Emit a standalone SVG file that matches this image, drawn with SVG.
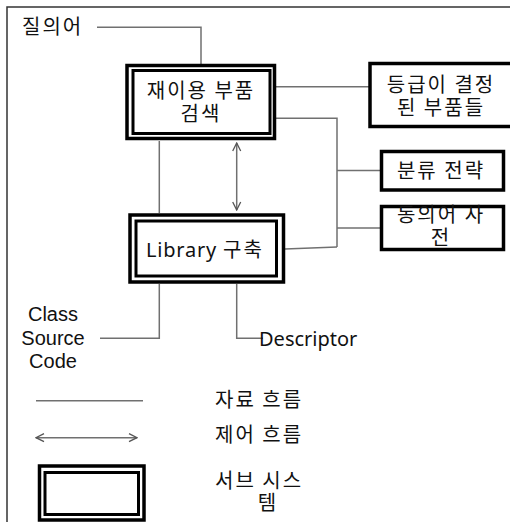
<svg xmlns="http://www.w3.org/2000/svg" width="510" height="525" viewBox="0 0 510 525">
<defs>
<style>
.frame{stroke:#333;stroke-width:1.5;fill:none}
.box{fill:#fff;stroke:#000;stroke-width:3.5}
.ibox{fill:none;stroke:#000;stroke-width:3}
.ln{stroke:#707070;stroke-width:1.5;fill:none}
.ko{font-family:"Noto Sans CJK KR","Noto Sans",sans-serif;font-size:20px;letter-spacing:2px;fill:#111}
.la{font-family:"Noto Sans","Noto Sans CJK KR",sans-serif;font-size:20px;fill:#111}
.lb{font-family:"Liberation Sans",Arial,sans-serif;font-size:20px;fill:#111}
</style>
<marker id="ah" viewBox="0 0 10 10" refX="9" refY="5" markerWidth="10" markerHeight="10" markerUnits="userSpaceOnUse" orient="auto-start-reverse">
<path d="M1,1 L9,5 L1,9" fill="none" stroke="#555" stroke-width="1.3"/>
</marker>
</defs>
<rect width="510" height="525" fill="#fff"/>
<path class="frame" d="M7,522 V7 H510"/>

<g id="connectors">
<path class="ln" d="M97,27.3 H201 V64"/>
<path class="ln" d="M276,86.7 H369"/>
<path class="ln" d="M276,118.3 H337 V247"/>
<path class="ln" d="M337,170.5 H380"/>
<path class="ln" d="M337,228 H380"/>
<path class="ln" d="M285,249 L337,247"/>
<path class="ln" d="M159.3,141 V213"/>
<path class="ln" d="M236.7,143 V210" marker-start="url(#ah)" marker-end="url(#ah)"/>
<path class="ln" d="M159.3,284 V338.3 H100"/>
<path class="ln" d="M236.7,284 V338.3 H263"/>
</g>

<g id="query"><text class="ko" x="22" y="34">질의어</text></g>

<g id="search">
<rect class="box" x="127" y="65.5" width="147.5" height="73"/>
<rect class="ibox" x="133" y="70.5" width="137" height="63"/>
<text class="ko" text-anchor="middle"><tspan x="201" y="98">재이용 부품</tspan><tspan x="201" y="121">검색</tspan></text>
</g>

<g id="ranked">
<rect class="box" x="370" y="63.5" width="150" height="63" stroke-width="3"/>
<text class="ko" text-anchor="middle"><tspan x="441" y="92">등급이 결정</tspan><tspan x="441" y="115">된 부품들</tspan></text>
</g>

<g id="classify">
<rect class="box" x="381.5" y="151.5" width="122" height="38.5" stroke-width="3"/>
<text class="ko" x="441" y="178" text-anchor="middle">분류 전략</text>
</g>

<g id="thesaurus">
<rect class="box" x="381.5" y="206.5" width="122" height="43" stroke-width="3"/>
<text class="ko" text-anchor="middle"><tspan x="441" y="222">동의어 사</tspan><tspan x="441" y="245">전</tspan></text>
</g>

<g id="library">
<rect class="box" x="130" y="215" width="153.5" height="67"/>
<rect class="ibox" x="136" y="221" width="140.5" height="55"/>
<text class="la" x="146" y="257" letter-spacing="0.8">Library <tspan style="font-family:'Noto Sans CJK KR',sans-serif;letter-spacing:2px">구축</tspan></text>
</g>

<g id="source">
<text class="lb" text-anchor="middle"><tspan x="53" y="321">Class</tspan><tspan x="53" y="345">Source</tspan><tspan x="53" y="368">Code</tspan></text>
</g>

<g id="descriptor"><text class="la" x="259" y="346">Descriptor</text></g>

<g id="legend">
<path class="ln" d="M36,400.7 H143"/>
<path class="ln" d="M36,437.7 H137" marker-start="url(#ah)" marker-end="url(#ah)"/>
<rect class="box" x="39.5" y="466" width="104.5" height="54"/>
<rect class="ibox" x="45" y="472.5" width="93.5" height="42"/>
<text class="ko" x="215" y="407">자료 흐름</text>
<text class="ko" x="215" y="442">제어 흐름</text>
<text class="ko"><tspan x="215" y="488">서브 시스</tspan><tspan x="268" y="510" text-anchor="middle">템</tspan></text>
</g>
</svg>
